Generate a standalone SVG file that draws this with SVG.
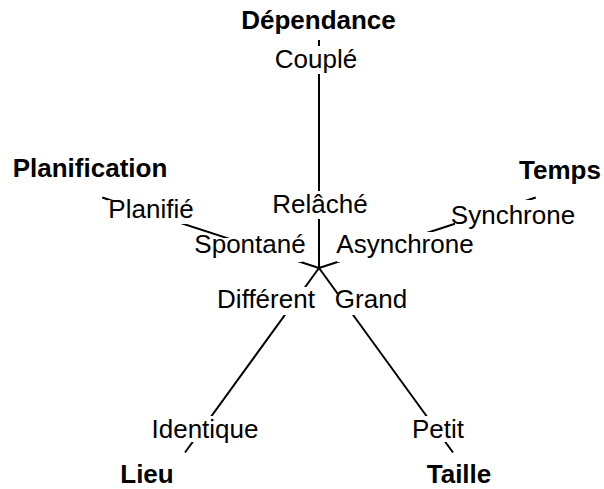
<svg xmlns="http://www.w3.org/2000/svg" width="604" height="489" viewBox="0 0 604 489">
  <style>
    .axis { stroke: #000; stroke-width: 2; fill: none; }
    .bg { fill: #fff; }
    .val { font-family: "Liberation Sans", Arial, sans-serif; font-size: 26px; text-anchor: middle; fill: #000; }
    .dim { font-family: "Liberation Sans", Arial, sans-serif; font-size: 26px; font-weight: bold; text-anchor: middle; fill: #000; }
  </style>
  <rect width="604" height="489" fill="#fff"/>

  <!-- five axes radiating from the centre (319,268), length 228 -->
  <g id="connectors">
    <line class="axis" x1="319" y1="268" x2="319" y2="40"/>
    <line class="axis" x1="319" y1="268" x2="102.2" y2="197.5"/>
    <line class="axis" x1="319" y1="268" x2="535.8" y2="197.5"/>
    <line class="axis" x1="319" y1="268" x2="185" y2="452.5"/>
    <line class="axis" x1="319" y1="268" x2="453" y2="452.5"/>
  </g>

  <!-- axis titles -->
  <g id="dependance"><text class="dim" x="318.5" y="29">Dépendance</text></g>
  <g id="planification"><text class="dim" x="90" y="177">Planification</text></g>
  <g id="temps"><text class="dim" x="560" y="179">Temps</text></g>
  <g id="lieu"><text class="dim" x="147" y="483">Lieu</text></g>
  <g id="taille"><text class="dim" x="459" y="483">Taille</text></g>

  <!-- axis values, each on a white plate that hides the axis -->
  <g id="couple"><rect class="bg" x="274" y="46" width="86" height="28"/><text class="val" x="316" y="68">Couplé</text></g>
  <g id="relache"><rect class="bg" x="272" y="191" width="96" height="28"/><text class="val" x="320" y="213">Relâché</text></g>
  <g id="planifie"><rect class="bg" x="108" y="200" width="86" height="24"/><text class="val" x="151" y="218">Planifié</text></g>
  <g id="spontane"><rect class="bg" x="194" y="238" width="108" height="24"/><text class="val" x="250" y="253">Spontané</text></g>
  <g id="asynchrone"><rect class="bg" x="337" y="232" width="140" height="30"/><text class="val" x="405" y="253">Asynchrone</text></g>
  <g id="synchrone"><rect class="bg" x="455" y="200" width="120" height="30"/><text class="val" x="513" y="224">Synchrone</text></g>
  <g id="different"><rect class="bg" x="216" y="287" width="100" height="28"/><text class="val" x="266" y="308">Différent</text></g>
  <g id="grand"><rect class="bg" x="334" y="294" width="74" height="21"/><text class="val" x="371" y="308">Grand</text></g>
  <g id="identique"><rect class="bg" x="152" y="416" width="106" height="26"/><text class="val" x="205" y="438">Identique</text></g>
  <g id="petit"><rect class="bg" x="412" y="416" width="54" height="26"/><text class="val" x="438" y="438">Petit</text></g>
</svg>
